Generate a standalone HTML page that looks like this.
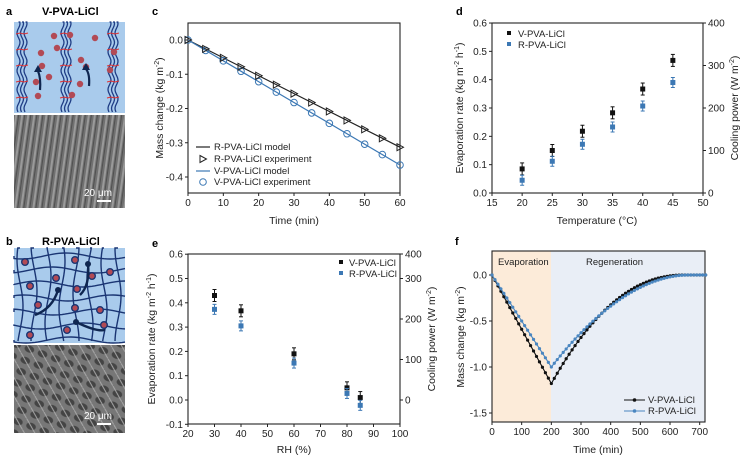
<!DOCTYPE html>
<html><head><meta charset="utf-8"><style>
body{margin:0;background:#fff;width:750px;height:458px;overflow:hidden}
svg{display:block;font-family:"Liberation Sans",sans-serif}
</style></head><body>
<svg id="s" width="750" height="458" viewBox="0 0 750 458" xmlns="http://www.w3.org/2000/svg">
<defs>
<pattern id="str" width="6" height="40" patternUnits="userSpaceOnUse" patternTransform="rotate(8)"><rect width="6" height="40" fill="#707070"/><rect x="1" width="2" height="40" fill="#9a9a9a"/><rect x="4" width="1" height="40" fill="#505050"/></pattern>
<pattern id="por" width="14" height="12" patternUnits="userSpaceOnUse" patternTransform="rotate(20)"><rect width="14" height="12" fill="#777"/><ellipse cx="7" cy="6" rx="5" ry="3.5" fill="#444"/><path d="M0 0L14 12" stroke="#aaa" stroke-width="1"/></pattern>
</defs>
<g font-weight="bold" font-size="11" fill="#000">
<text x="6" y="15">a</text><text x="42" y="15">V-PVA-LiCl</text>
<text x="6" y="245">b</text><text x="42" y="245">R-PVA-LiCl</text>
<text x="152" y="15">c</text><text x="456" y="15">d</text>
<text x="152" y="247">e</text><text x="455" y="245">f</text>
</g>
<rect x="14" y="22" width="111" height="91" fill="#a9cbec"/>
<g id="aw" fill="none" stroke="#1f3d85" stroke-width="1.3"></g>
<g id="ad" fill="#b24a55"></g>
<rect x="14" y="115" width="111" height="93" fill="url(#str)"/>
<text x="84" y="196" font-size="10" fill="#fff">20 μm</text><rect x="97" y="200" width="14" height="2" fill="#fff"/>
<rect x="14" y="248" width="111" height="95" fill="#a9cbec"/>
<g id="bw" fill="none" stroke="#1a3573" stroke-width="1.4"></g>
<rect x="14" y="345" width="111" height="88" fill="url(#por)"/>
<text x="84" y="419" font-size="10" fill="#fff">20 μm</text><rect x="97" y="423" width="14" height="2" fill="#fff"/>
<rect x="492" y="251" width="59" height="171" fill="#fcebd9"/>
<rect x="551" y="251" width="154" height="171" fill="#e9eef6"/>
<g id="plots" font-size="10" fill="#222"></g>
<g font-size="10.5" fill="#222">
<text x="294" y="224" text-anchor="middle">Time (min)</text>
<text x="597" y="224" text-anchor="middle">Temperature (°C)</text>
<text x="294" y="453" text-anchor="middle">RH (%)</text>
<text x="598" y="453" text-anchor="middle">Time (min)</text>
<text transform="translate(163,108) rotate(-90)" text-anchor="middle">Mass change (kg m<tspan font-size="7" dy="-4">-2</tspan><tspan dy="4">)</tspan></text>
<text transform="translate(463,108) rotate(-90)" text-anchor="middle">Evaporation rate (kg m<tspan font-size="7" dy="-4">-2</tspan><tspan dy="4"> h</tspan><tspan font-size="7" dy="-4">-1</tspan><tspan dy="4">)</tspan></text>
<text transform="translate(738,108) rotate(-90)" text-anchor="middle">Cooling power (W m<tspan font-size="7" dy="-4">-2</tspan><tspan dy="4">)</tspan></text>
<text transform="translate(155,339) rotate(-90)" text-anchor="middle">Evaporation rate (kg m<tspan font-size="7" dy="-4">-2</tspan><tspan dy="4"> h</tspan><tspan font-size="7" dy="-4">-1</tspan><tspan dy="4">)</tspan></text>
<text transform="translate(435,339) rotate(-90)" text-anchor="middle">Cooling power (W m<tspan font-size="7" dy="-4">-2</tspan><tspan dy="4">)</tspan></text>
<text transform="translate(464,337) rotate(-90)" text-anchor="middle">Mass change (kg m<tspan font-size="7" dy="-4">-2</tspan><tspan dy="4">)</tspan></text>
</g>
<g font-size="9.5" fill="#222">
<text x="214" y="150">R-PVA-LiCl model</text>
<text x="214" y="162">R-PVA-LiCl experiment</text>
<text x="214" y="174">V-PVA-LiCl model</text>
<text x="214" y="185">V-PVA-LiCl experiment</text>
<text x="518" y="37">V-PVA-LiCl</text>
<text x="518" y="48">R-PVA-LiCl</text>
<text x="349" y="266">V-PVA-LiCl</text>
<text x="349" y="277">R-PVA-LiCl</text>
<text x="498" y="265">Evaporation</text>
<text x="586" y="265">Regeneration</text>
<text x="648" y="403">V-PVA-LiCl</text>
<text x="648" y="414">R-PVA-LiCl</text>
</g>
</svg>
<script>
const NS="http://www.w3.org/2000/svg",P=document.getElementById('plots');
function el(t,a,p){const e=document.createElementNS(NS,t);for(const k in a)e.setAttribute(k,a[k]);(p||P).appendChild(e);return e}
function axes(x0,x1,y0,y1,xt,yt,fx,fy,right){
 el('rect',{x:x0,y:y0,width:x1-x0,height:y1-y0,fill:'none',stroke:'#222','stroke-width':1.1});
 xt.forEach(v=>{const x=fx(v);el('line',{x1:x,x2:x,y1:y1,y2:y1+3,stroke:'#222'});const t=el('text',{x:x,y:y1+13,'text-anchor':'middle'});t.textContent=v;});
 yt.forEach(v=>{const y=fy(v[0]);el('line',{x1:x0-3,x2:x0,y1:y,y2:y,stroke:'#222'});const t=el('text',{x:x0-5,y:y+3.5,'text-anchor':'end'});t.textContent=v[1];});
 if(right)right.forEach(v=>{const y=v[0];el('line',{x1:x1,x2:x1+3,y1:y,y2:y,stroke:'#222'});const t=el('text',{x:x1+5,y:y+3.5});t.textContent=v[1];});
}
let cx=v=>188+v*212/60, cy=v=>40-v*342.5;
axes(188,400,23,193,[0,10,20,30,40,50,60],[[0,'0.0'],[-.1,'-0.1'],[-.2,'-0.2'],[-.3,'-0.3'],[-.4,'-0.4']],cx,cy);
el('line',{x1:cx(0),y1:cy(0),x2:cx(60),y2:cy(-.313),stroke:'#222','stroke-width':1.2});
el('line',{x1:cx(0),y1:cy(0),x2:cx(60),y2:cy(-.365),stroke:'#3c78b4','stroke-width':1.2});
for(let t=0;t<=60;t+=5){let x=cx(t),y=cy(-.313*t/60),y2=cy(-.365*t/60);
 el('circle',{cx:x,cy:y2,r:3.3,fill:'none',stroke:'#3c78b4','stroke-width':1});
 el('path',{d:`M${x-3} ${y-3.5}L${x+3.5} ${y}L${x-3} ${y+3.5}Z`,fill:'none',stroke:'#222','stroke-width':1});}
el('line',{x1:196,x2:210,y1:147,y2:147,stroke:'#222','stroke-width':1.2});
el('path',{d:'M200 155.5L206.5 159L200 162.5Z',fill:'none',stroke:'#222'});
el('line',{x1:196,x2:210,y1:171,y2:171,stroke:'#3c78b4','stroke-width':1.2});
el('circle',{cx:203,cy:182,r:3.3,fill:'none',stroke:'#3c78b4'});
let dx=v=>492+(v-15)*211/35, dy=v=>193-v*283.3;
axes(492,703,23,193,[15,20,25,30,35,40,45,50],[[0,'0.0'],[.1,'0.1'],[.2,'0.2'],[.3,'0.3'],[.4,'0.4'],[.5,'0.5'],[.6,'0.6']],dx,dy,[[193,'0'],[150.5,'100'],[108,'200'],[65.5,'300'],[23,'400']]);
function pt(x,y,e,c){el('line',{x1:x,x2:x,y1:y-e,y2:y+e,stroke:c});el('line',{x1:x-2,x2:x+2,y1:y-e,y2:y-e,stroke:c});el('line',{x1:x-2,x2:x+2,y1:y+e,y2:y+e,stroke:c});el('rect',{x:x-2.5,y:y-2.5,width:5,height:5,fill:c});}
[[20,.085,.045],[25,.15,.112],[30,.218,.172],[35,.283,.233],[40,.367,.307],[45,.468,.39]].forEach(a=>{pt(dx(a[0]),dy(a[1]),6,'#111');pt(dx(a[0]),dy(a[2]),5,'#3c78b4');});
el('rect',{x:507,y:31,width:4,height:4,fill:'#111'});el('rect',{x:507,y:42,width:4,height:4,fill:'#3c78b4'});
let ex=v=>188+(v-20)*212/80, ey=v=>400-v*243;
axes(188,400,254,424,[20,30,40,50,60,70,80,90,100],[[.6,'0.6'],[.5,'0.5'],[.4,'0.4'],[.3,'0.3'],[.2,'0.2'],[.1,'0.1'],[0,'0.0'],[-.1,'-0.1']],ex,ey,[[400,'0'],[359.5,'100'],[319,'200'],[278.5,'300'],[254,'400']]);
[[30,.43,.373],[40,.367,.305],[60,.19,.152],[80,.05,.027],[85,.01,-.022]].forEach(a=>{pt(ex(a[0]),ey(a[1]),6,'#111');pt(ex(a[0]),ey(a[2]),5,'#3c78b4');});
el('rect',{x:339,y:260,width:4,height:4,fill:'#111'});el('rect',{x:339,y:271,width:4,height:4,fill:'#3c78b4'});
let fx=v=>492+v*0.2967, fy=v=>275-v*92;
axes(492,705,251,422,[0,100,200,300,400,500,600,700],[[0,'0.0'],[-.5,'-0.5'],[-1,'-1.0'],[-1.5,'-1.5']],fx,fy);
function curve(m,span,p,c){let pts=[];for(let t=0;t<=720;t+=10){let s=Math.min(1,(t-200)/span);let v=t<=200?-m*t/200:-m*Math.pow(1-s,p);pts.push([fx(t),fy(v)]);}
 el('polyline',{points:pts.map(p=>p.join(',')).join(' '),fill:'none',stroke:c,'stroke-width':1.1});
 pts.forEach(p=>el('circle',{cx:p[0],cy:p[1],r:1.6,fill:c}));}
curve(1.18,450,2.2,'#111');curve(1.0,460,1.9,'#4a86c0');
el('line',{x1:624,x2:645,y1:400,y2:400,stroke:'#111'});el('circle',{cx:634.5,cy:400,r:1.8,fill:'#111'});
el('line',{x1:624,x2:645,y1:411,y2:411,stroke:'#4a86c0'});el('circle',{cx:634.5,cy:411,r:1.8,fill:'#4a86c0'});
const AW=document.getElementById('aw'),AD=document.getElementById('ad'),BW=document.getElementById('bw');
[22,66,113].forEach(cx0=>{for(let k=0;k<3;k++){let x=cx0+k*3.5-3.5,d=`M${x} 22`;for(let y=22;y<=113;y+=2)d+=`L${x+1.5*Math.sin(y/3)} ${y}`;el('path',{d},AW);}
 [34,50,66,82,98].forEach(y=>el('path',{d:`M${cx0-6} ${y}l4 -1l4 1l4 -1`,stroke:'#e03030',fill:'none','stroke-width':1},AW));});
[[54,36],[70,35],[41,53],[42,66],[49,77],[36,82],[57,48],[95,38],[81,60],[86,67],[80,84],[114,52],[110,70],[72,95],[38,96]].forEach(p=>el('circle',{cx:p[0],cy:p[1],r:3.2},AD));
[[40,90,38,65],[89,86,86,63]].forEach(a=>{el('path',{d:`M${a[0]} ${a[1]}Q${a[0]+1} ${a[1]-12} ${a[2]} ${a[3]+6}`,stroke:'#0f2650','stroke-width':2.2,fill:'none'},AD);el('path',{d:`M${a[2]-4} ${a[3]+7}L${a[2]} ${a[3]}L${a[2]+4} ${a[3]+7}Z`,fill:'#0f2650'},AD);});
for(let i=0;i<7;i++){let y0=256+i*14,d=`M14 ${y0}`;for(let x=14;x<=125;x+=3)d+=`L${x} ${y0+3*Math.sin(x/14+i)}`;el('path',{d},BW);}
for(let i=0;i<8;i++){let x0=20+i*14,d=`M${x0} 248`;for(let y=248;y<=343;y+=3)d+=`L${x0+3*Math.sin(y/15+i)} ${y}`;el('path',{d},BW);}
[[25,262],[75,260],[30,286],[56,278],[92,276],[110,272],[77,289],[38,305],[75,308],[100,310],[67,330],[30,335],[104,325]].forEach(p=>el('circle',{cx:p[0],cy:p[1],r:3.3,fill:'#b24a55'},BW));
[[35,315,58,290],[80,295,88,264],[105,330,76,322]].forEach(a=>{el('path',{d:`M${a[0]} ${a[1]}Q${(a[0]+a[2])/2+6} ${(a[1]+a[3])/2+6} ${a[2]} ${a[3]}`,stroke:'#0f2650','stroke-width':2.4,fill:'none'},BW);el('circle',{cx:a[2],cy:a[3],r:3,fill:'#0f2650',stroke:'none'},BW);});
</script>
</body></html>
